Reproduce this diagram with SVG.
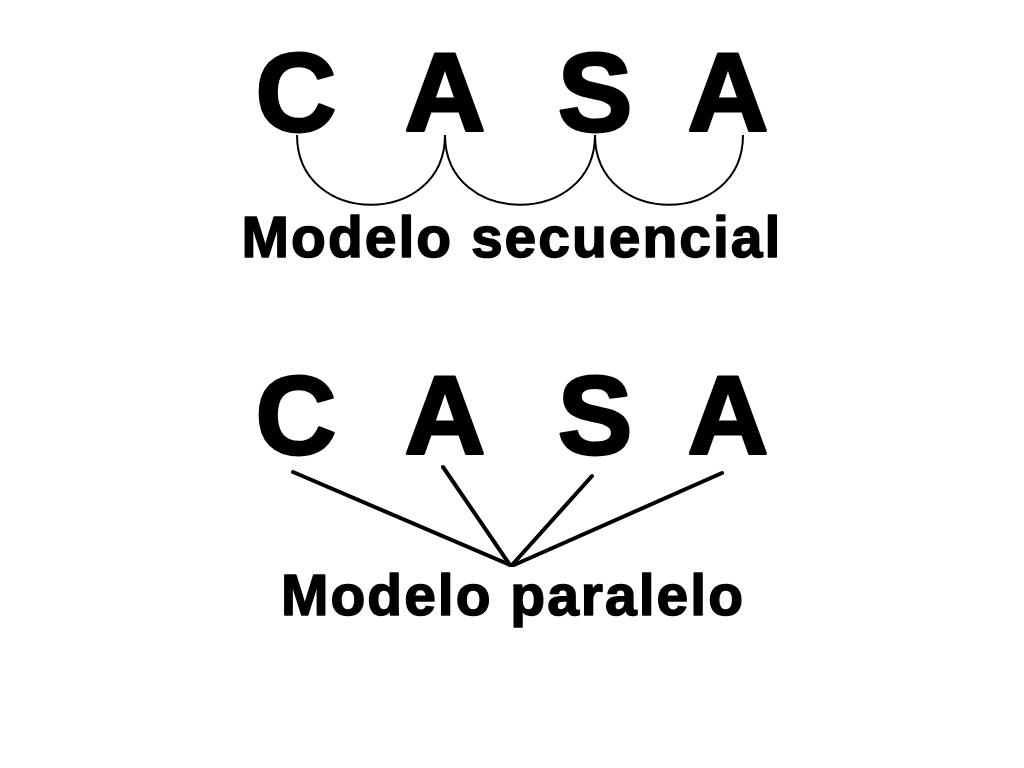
<svg xmlns="http://www.w3.org/2000/svg" width="1024" height="768" viewBox="0 0 1024 768">
<style>
.big{font-family:"Liberation Sans",Arial,sans-serif;font-weight:bold;font-size:112px;text-anchor:middle;fill:#000;stroke:#000;stroke-width:3;stroke-linejoin:round}
.lbl{font-family:"Liberation Sans",Arial,sans-serif;font-weight:bold;font-size:57px;letter-spacing:2px;text-anchor:middle;fill:#000;stroke:#000;stroke-width:1.5;stroke-linejoin:round}
.c{fill:none;stroke:#000;stroke-width:2}
.l{stroke:#000;stroke-width:4;stroke-linecap:round}
</style>
<rect width="1024" height="768" fill="#fff"/>
<g id="top">
<text class="big" x="296" y="131">C</text>
<text class="big" x="445" y="131">A</text>
<text class="big" x="595" y="131">S</text>
<text class="big" x="728" y="131">A</text>
</g>
<g id="connectors-top">
<path class="c" d="M297,135 C297,228 445,228 445,135"/>
<path class="c" d="M445,135 C445,228 595,228 595,135"/>
<path class="c" d="M595,135 C595,228 743,228 743,135"/>
</g>
<text class="lbl" x="512" y="257">Modelo secuencial</text>
<g id="bottom">
<text class="big" x="296" y="454">C</text>
<text class="big" x="445" y="454">A</text>
<text class="big" x="595" y="454">S</text>
<text class="big" x="728" y="454">A</text>
</g>
<g id="connectors-bottom">
<line class="l" x1="293" y1="472" x2="510" y2="565"/>
<line class="l" x1="443" y1="467" x2="510" y2="565"/>
<line class="l" x1="592" y1="476" x2="512" y2="565"/>
<line class="l" x1="722" y1="473" x2="514" y2="565"/>
</g>
<text class="lbl" x="513" y="615">Modelo paralelo</text>
</svg>
